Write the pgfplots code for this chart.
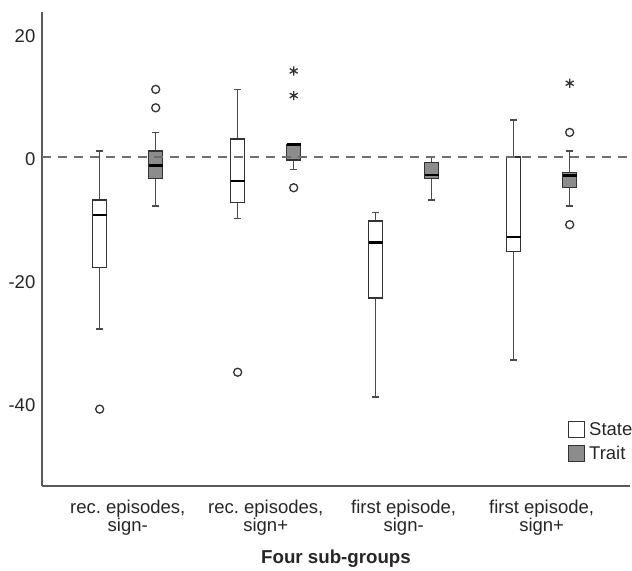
\documentclass[border=0pt]{standalone}
\usepackage{fontspec}
\setmainfont{Liberation Sans}
\usepackage{pgfplots}
\pgfplotsset{compat=1.18}
\usepgfplotslibrary{statistics}
\frenchspacing
\definecolor{boxc}{HTML}{333333}
\definecolor{whc}{HTML}{4A4A4A}
\definecolor{traitc}{HTML}{8C8C8C}
\definecolor{dashc}{HTML}{6E6E6E}
\definecolor{axc}{HTML}{5A5A5A}
\pgfplotsset{
  statebox/.style={forget plot, draw=boxc, fill=white, line width=1.4bp,
    boxplot/draw direction=y,
    boxplot/every whisker/.style={whc, line width=1.5bp},
    boxplot/every median/.style={black, line width=2.6bp}},
  traitbox/.style={forget plot, draw=boxc, fill=traitc, line width=1.4bp,
    boxplot/draw direction=y,
    boxplot/every whisker/.style={whc, line width=1.5bp},
    boxplot/every median/.style={black, line width=2.6bp}},
  sqlegend/.style={legend image code/.code={\draw[##1] (0bp,-8bp) rectangle (16bp,8bp);}},
}
\begin{document}
\begin{tikzpicture}
\useasboundingbox (0bp,0bp) rectangle (632bp,571bp);
\begin{axis}[
  at={(42bp,85bp)}, anchor=south west,
  scale only axis, width=588bp, height=474bp,
  xmin=0.379, xmax=4.640, ymin=-53.5, ymax=23.58,
  axis x line*=bottom, axis y line*=left,
  axis line style={axc, line width=1.2bp, -},
  xtick={1,2,3,4},
  xticklabels={{rec. episodes,\\sign-},{rec. episodes,\\sign+},{first episode,\\sign-},{first episode,\\sign+}},
  ytick={-40,-20,0,20},
  major tick length=0pt,
  tick label style={font=\fontsize{18.5bp}{17.4bp}\selectfont, text=black!85},
  xticklabel style={align=center, anchor=north, inner sep=0pt, yshift=-14bp},
  yticklabel style={anchor=east, inner sep=0pt, xshift=-6.5bp, yshift=-2bp},
  /pgf/number format/assume math mode=true,
  xlabel={Four sub-groups},
  xlabel style={at={(axis description cs:0.5,0)}, anchor=base, yshift=-77bp, inner sep=0pt,
    font=\fontsize{18.7bp}{20bp}\selectfont\bfseries, text=black!85},
  legend style={at={(axis description cs:0.894,0.1378)}, anchor=north west, draw=none, fill=none,
    inner sep=0pt, row sep=7bp, font=\fontsize{18.5bp}{20bp}\selectfont, text=black!85,
    nodes={inner sep=0pt}, /tikz/every odd column/.append style={column sep=4bp}},
  legend cell align=left,
]
% Group 1: rec. episodes, sign-
\addplot[statebox, boxplot prepared={draw position=0.797, lower whisker=-28, lower quartile=-18,
  median=-9.4, upper quartile=-7, upper whisker=1, box extend=0.102, whisker extend=0.05}] coordinates {};
\addplot[traitbox, boxplot prepared={draw position=1.203, lower whisker=-8, lower quartile=-3.5,
  median=-1.4, upper quartile=1, upper whisker=4, box extend=0.102, whisker extend=0.05}] coordinates {};
% Group 2: rec. episodes, sign+
\addplot[statebox, boxplot prepared={draw position=1.797, lower whisker=-10, lower quartile=-7.4,
  median=-3.9, upper quartile=2.9, upper whisker=11, box extend=0.102, whisker extend=0.05}] coordinates {};
\addplot[traitbox, boxplot prepared={draw position=2.203, lower whisker=-2, lower quartile=-0.5,
  median=2, upper quartile=2, upper whisker=2, box extend=0.102, whisker extend=0.05}] coordinates {};
% Group 3: first episode, sign-
\addplot[statebox, boxplot prepared={draw position=2.797, lower whisker=-39, lower quartile=-22.9,
  median=-13.9, upper quartile=-10.4, upper whisker=-9, box extend=0.102, whisker extend=0.05}] coordinates {};
\addplot[traitbox, boxplot prepared={draw position=3.203, lower whisker=-7, lower quartile=-3.5,
  median=-2.9, upper quartile=-0.9, upper whisker=0, box extend=0.102, whisker extend=0.05}] coordinates {};
% Group 4: first episode, sign+
\addplot[statebox, boxplot prepared={draw position=3.797, lower whisker=-33, lower quartile=-15.4,
  median=-13, upper quartile=0, upper whisker=6, box extend=0.102, whisker extend=0.05}] coordinates {};
\addplot[traitbox, boxplot prepared={draw position=4.203, lower whisker=-8, lower quartile=-5,
  median=-3, upper quartile=-2.5, upper whisker=1, box extend=0.102, whisker extend=0.05}] coordinates {};
% outliers
\addplot[forget plot, only marks, mark=o, mark size=4bp, mark options={draw=boxc, line width=1.3bp, fill=white}]
  coordinates {(0.797,-41) (1.203,11) (1.203,8) (1.797,-35) (2.203,-5) (4.203,4) (4.203,-11)};
% extreme values
\addplot[forget plot, only marks, mark=asterisk, mark size=4.6bp, mark options={draw=boxc, line width=1.3bp}]
  coordinates {(2.203,10) (2.203,14) (4.203,12)};
% reference line
\addplot[forget plot, dashc, line width=1.7bp, dash pattern=on 9bp off 7bp] coordinates {(0.379,0) (4.640,0)};
% legend
\addlegendimage{sqlegend, draw=boxc, fill=white, line width=1.3bp}
\addlegendentry{State}
\addlegendimage{sqlegend, draw=boxc, fill=traitc, line width=1.3bp}
\addlegendentry{Trait}
\end{axis}
\end{tikzpicture}
\end{document}
